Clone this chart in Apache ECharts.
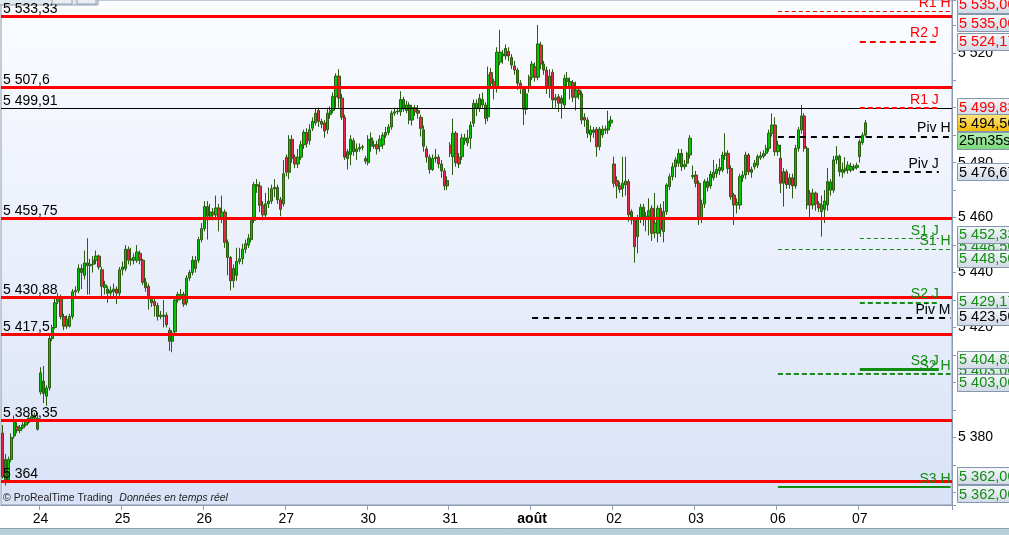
<!DOCTYPE html>
<html><head><meta charset="utf-8">
<script src="https://cdn.jsdelivr.net/npm/echarts@6/dist/echarts.min.js"></script>
<style>html,body{margin:0;padding:0;background:#fff;overflow:hidden}#c{width:1009px;height:535px}</style>
</head><body><div id="c"></div>
<script>
// ---------- DATA ----------
const dayNames = ['23','24','25','26','27','30','31','août','02','03','06','07','08'];
const daySlots = [13,28,28,28,28,28,28,28,28,28,28,28,4];
const labelledDays = ['24','25','26','27','30','31','août','02','03','06','07'];

// candles: [open, close, low, high]
const day23 = [
[5381.6,5365.6,5365.0,5384.5],[5372,5364.5,5362.5,5374],[5364.5,5372,5363.5,5373],[5372,5380,5371,5381.5],
[5380.5,5386.5,5379.5,5388],[5384,5382.5,5381.5,5385.5],[5382.5,5383.5,5381.5,5384.5],[5383.5,5384.5,5383,5385.5],
[5384.5,5386,5384,5386.5],[5385.5,5387,5385,5388],[5386.5,5387.5,5386,5390.5],[5387,5388,5386.5,5389],[5387,5383,5382.5,5389]];
const day24 = [
[5396.5,5403.5,5395.5,5405.5],[5400.5,5396,5392.5,5406],[5395,5398,5391.5,5399],[5398,5416,5397,5417],
[5416,5420,5415,5421],[5420,5429,5419.5,5430.5],[5429.5,5430.5,5428.5,5432.5],[5430.5,5424,5423,5432],
[5424,5420.5,5419,5425],[5420.5,5423,5419.5,5424.5],[5420.5,5424,5420,5425],[5424,5433,5423,5434],
[5433,5433.5,5431.5,5435],[5433.5,5441.5,5432.5,5443],[5441.5,5440,5434,5443],[5439,5443.5,5437.5,5448],
[5443.5,5442.5,5432,5452.5],[5442.5,5443,5432,5445],[5443,5444.5,5440,5446],[5444.5,5446,5443,5448],
[5446,5442,5441,5446.5],[5441,5435,5431.5,5442],[5434.5,5435.5,5432,5437],[5434,5432.5,5429,5435],
[5432.5,5433.5,5431,5435],[5433,5434,5431,5436],[5434,5432.5,5428.5,5435],[5432.5,5441,5431.5,5442]];
const day25 = [
[5441,5442,5439,5444],[5441.5,5448.5,5440.5,5450],[5448.5,5444.5,5443,5449.5],[5444.5,5445,5442.5,5449],
[5444.5,5445.5,5443,5447],[5444.5,5447.5,5443.5,5450],[5447,5444.5,5443,5448],[5444.5,5436.5,5435.5,5445],
[5436.5,5434.5,5433,5438],[5435,5430.5,5426.5,5436],[5430.5,5429,5427.5,5431.5],[5429.5,5428,5424,5430.5],
[5428,5424,5422.5,5429],[5424,5424.5,5423,5426],[5424,5424.5,5420,5430],[5424.5,5421,5420,5425.5],
[5419,5415,5411.5,5420],[5415,5418,5411,5419],[5418.5,5430,5417,5431],[5430,5432,5429,5433],
[5431,5432,5430,5434],[5432,5428.5,5427.5,5433],[5429,5438,5428,5439],[5438,5440,5437,5441],
[5440,5444.5,5439,5446],[5441.5,5444.5,5440,5446],[5444.5,5452,5443.5,5453],[5452,5456,5451,5458]];
const day26 = [
[5456,5464,5455,5466],[5464,5460.5,5452,5466],[5460.5,5462,5459,5465],[5462,5461,5459,5463.5],
[5461,5463.5,5459.5,5468],[5463.5,5460,5455,5465],[5460,5462,5458,5468],[5462,5451,5449,5463],
[5451,5445.5,5439,5452],[5445.5,5437,5433.5,5446],[5437,5441.5,5434.5,5443],[5439,5444,5437,5449],
[5444,5445,5443,5449],[5445,5448.5,5443,5450.5],[5448.5,5450.5,5447,5452],[5450,5452.5,5449,5454],
[5452,5459,5451,5460],[5459,5472,5458,5473],[5472,5471.5,5469,5474],[5471.5,5464.5,5462,5473],
[5464.5,5461,5459,5466],[5461,5465,5460,5469],[5465,5466,5463.5,5471],[5466,5470.5,5465,5472],
[5471,5470.5,5467.5,5474],[5471,5466.5,5465,5472],[5466.5,5463,5460.5,5467.5],[5465,5476,5464,5481]];
const day27 = [
[5482,5476.5,5475,5483],[5476.5,5488.5,5474,5490],[5488.5,5481.5,5480,5490],[5482,5479.5,5478,5483],
[5479.5,5482,5478,5485],[5482,5486.5,5481,5488],[5486.5,5491,5485,5492],[5491,5487,5485.5,5492.5],
[5488,5492,5486.5,5494],[5492.5,5495,5491.5,5496.5],[5494.5,5498,5493.5,5499.5],[5499,5495,5493,5500],
[5495,5494,5492.5,5496],[5494.5,5491.5,5489,5495.5],[5492,5498,5490.5,5500],[5497.5,5499,5496,5500.5],
[5499,5504,5498,5505.5],[5504,5511.5,5500,5512.5],[5511.5,5503.5,5500,5514],[5503.5,5496.5,5495.5,5505],
[5496.5,5482,5481,5497.5],[5484,5481.5,5477.5,5485],[5483,5488.5,5479,5490],[5488,5484,5482.5,5489],
[5484,5485,5481,5487],[5485,5485.5,5484,5487],[5485.5,5485.8,5484.5,5486.5],[5481.5,5480.5,5479.5,5482.5]];
const day30 = [
[5480,5488.5,5479,5490],[5489,5486,5484,5491],[5486,5486.5,5485,5488],[5486.5,5485,5483,5488],
[5486,5488.5,5484,5490],[5486.5,5490,5485,5491],[5490,5491,5489,5493],[5491,5493,5490,5494],
[5493,5498,5492,5499],[5498,5498.5,5497,5500],[5498.5,5498.8,5497.5,5500],[5498.5,5503,5497,5506],
[5503,5499.5,5498.5,5504],[5499,5501,5498,5502.5],[5501,5495.5,5494,5502],[5495.5,5500,5493.5,5501],
[5500,5498.5,5497,5501],[5499,5498,5496,5501],[5496.5,5492.5,5489.5,5497.5],[5492,5486,5484,5493.5],
[5485,5482,5480,5486],[5482,5477.5,5476,5483],[5477.5,5481.5,5477,5483],[5481.5,5482,5480,5485],
[5482,5479.5,5478,5483],[5479.5,5477,5474.5,5481],[5477,5471.5,5470,5478],[5471.5,5473.5,5470,5475]];
const day31 = [
[5486.4,5483.4,5482,5487.5],[5482.2,5490.7,5475.5,5496],[5490.7,5480,5478.5,5491.5],[5482,5479.5,5478,5483.5],
[5482.2,5489,5481,5490.5],[5488,5489,5486.5,5490.5],[5487.2,5489,5486,5492],[5488.9,5493.7,5485,5495],
[5494.3,5501.6,5493,5503],[5499.8,5501.6,5497,5503],[5499.8,5503.4,5498.5,5505],[5501,5503,5500,5505.5],
[5501,5496.1,5494,5502],[5496.7,5511.9,5495,5515],[5512.8,5508.9,5507.5,5514.5],[5509.5,5507.1,5503,5510.5],
[5507.1,5520.2,5505.5,5522],[5516.6,5520.2,5515.5,5528.3],[5518.8,5519.6,5516,5521],[5518.8,5521.6,5517.5,5523],
[5520.5,5518.8,5517,5522],[5518.3,5515.5,5514,5519.5],[5515.2,5513.7,5512,5517],[5513.7,5508.9,5506.5,5514.5],
[5508.9,5507.1,5505,5510],[5506.7,5499.4,5493.7,5507.5],[5499.4,5505,5497.5,5507],[5507.1,5511.1,5505.5,5512]];
const dayAout = [
[5511.1,5515.9,5510,5517],[5514.9,5511.1,5509.5,5516.5],[5511.1,5523.2,5510,5530.1],[5522.8,5515.9,5514,5524],
[5515.9,5513.7,5512,5517],[5513.7,5507.1,5505,5515],[5507.1,5511.5,5503.5,5514],[5512.9,5502.8,5499.5,5514],
[5502.8,5503.6,5500,5505],[5504,5501.6,5498.5,5505],[5503.5,5501.6,5496,5504.5],[5501,5510.7,5499.5,5512],
[5509.5,5510.7,5507.5,5513],[5507.5,5509.5,5503,5511],[5509.1,5503.8,5502,5510],[5503.8,5506.4,5499,5509.5],
[5506.4,5504.8,5503,5507.5],[5505,5495.5,5494,5506],[5496.5,5495.5,5493,5498],[5495.5,5490.7,5489,5496.5],
[5490.1,5491.9,5487.5,5493.5],[5491.9,5491,5489,5493],[5492.2,5485.8,5482.2,5493],[5485.8,5492.2,5484.5,5493],
[5490.1,5492.2,5489,5493.5],[5491.8,5492.3,5490.5,5493.5],[5491.9,5494.9,5490.5,5498.9],[5494.5,5495.5,5493,5497]];
const day02 = [
[5479.5,5472.5,5471,5482.2],[5473.5,5471.5,5467,5475],[5471.5,5470.3,5469,5473],[5470.7,5472.5,5467.5,5482.2],
[5471.9,5473.3,5468,5482.2],[5473.1,5461,5458.5,5474],[5462.2,5459.1,5457.5,5463],[5459.1,5449.4,5443.6,5460],
[5453.1,5459.8,5447,5461],[5459.8,5463.8,5458,5465],[5463.8,5459.8,5457,5465],[5459.8,5460.5,5455,5462],
[5460.5,5462.5,5453.5,5467],[5463.4,5454.3,5451.5,5464.5],[5454.5,5458,5452.5,5469],[5454.3,5463.4,5451,5464.5],
[5463.4,5455.6,5453,5465],[5454.9,5462.2,5451,5466],[5462.2,5471.9,5461,5472.5],[5471.3,5474.9,5470,5476],
[5474.9,5478.5,5473.5,5480],[5478.5,5481,5474.5,5482],[5479.8,5483.4,5478.5,5485],[5483.4,5478.5,5477,5485],
[5478.5,5479.3,5477.5,5481],[5479.8,5483.4,5478.5,5484],[5482.8,5488.9,5481.5,5490],[5475.3,5475,5474,5479]];
const day03 = [
[5475.5,5472.5,5471,5477],[5472.5,5459.8,5457.3,5473.5],[5459.8,5465,5458,5466.5],[5465,5473.1,5463.5,5474],
[5473.1,5471,5469.5,5474.5],[5471.5,5475.8,5470.5,5477],[5474.5,5476.5,5473.5,5481],[5476,5477.5,5474.5,5479.5],
[5477,5478.2,5475.5,5481.5],[5477.3,5482.8,5476.5,5484],[5482.6,5483.5,5481,5490.7],[5483.4,5477.9,5476,5484.5],
[5477.9,5467.6,5466.5,5479],[5468.2,5464.6,5457.3,5469],[5464.6,5465.5,5461.5,5467],[5464.6,5474.9,5463,5476],
[5474.5,5475.5,5473,5477],[5475.5,5482.8,5474,5484],[5482.8,5476.7,5475.5,5483.5],[5477.5,5476.5,5474.5,5478.5],
[5478.5,5479.8,5477.5,5481],[5479.1,5482.2,5478,5483],[5481.8,5482.5,5481,5484],[5482.3,5483.3,5481.5,5484.5],
[5483.4,5485.2,5482.5,5486.5],[5485.2,5490.7,5484,5492],[5490.7,5493.7,5489.5,5498],[5493.7,5484,5482.5,5496.5]];
const day06 = [
[5484,5486.4,5482.5,5488],[5481.6,5472.5,5468.9,5486.5],[5472.5,5476.7,5464,5478],[5476.7,5472,5470.5,5477.5],
[5472,5474.5,5470.5,5476],[5474.5,5471.5,5467,5476],[5471.5,5485.2,5470.5,5486.5],[5485.2,5491.9,5484,5493],
[5491.9,5497,5490.5,5501],[5497,5485.2,5484,5498],[5485.2,5464.6,5463,5486],[5468.9,5464.6,5460,5470],
[5464.6,5468.9,5463,5470.5],[5468.9,5465,5462.5,5469.5],[5465,5463.5,5462,5466],[5462.2,5464.6,5453.1,5468],
[5463,5466,5458,5470],[5464.6,5473.1,5462.5,5478],[5470,5473,5468,5474],[5470,5481,5469,5482.5],
[5481,5482.4,5479.5,5486],[5482.4,5476.7,5475,5483],[5476.5,5477.5,5474.5,5480],[5477,5478,5476,5482],
[5477.3,5479.1,5476,5480.5],[5477.3,5478.6,5476.5,5480],[5478,5478.5,5477,5479.5],[5478.3,5479,5477.5,5480]];
const day07 = [
[5482.2,5487.6,5480,5488.5],[5487.3,5490,5486.5,5491],[5490,5494.5,5489.5,5495.5]];

// horizontal levels (left labels)
const levelValues = [5533.33, 5507.6, 5499.91, 5459.75, 5430.88, 5417.5, 5386.35, 5364];
const levelKinds  = ['red','red','black','red','red','red','red','red'];
// pivot levels
const pivotNames  = ['R1 H','R2 J','R1 J','Piv H','Piv J','S1 J','S1 H','S2 J','Piv M','S3 J','S2 H','S3 H'];
const pivotValues = [5535.00, 5524.17, 5499.83, 5489.5, 5476.67, 5452.33, 5448.50, 5429.17, 5423.50, 5404.82, 5403.00, 5362.00];
// right-hand value boxes
const boxValues = [5535.00, 5535.00, 5524.17, 5499.83, 5494.50, 5476.67, 5448.50, 5452.33, 5448.50, 5429.17, 5423.50, 5403.00, 5404.82, 5403.00, 5362.00, 5362.00];
const boxKinds  = ['red','red','red','red','price','black','green','green','green','green','black','green','green','green','green','green'];
const timerText = '25m35s';
const yTickLabels = [5380, 5400, 5420, 5440, 5460, 5480, 5500, 5520];

// ---------- BUILD ----------
const FONT = 'Arial, "Liberation Sans", sans-serif';
const categories = [];
const dayStartIndex = {};
dayNames.forEach((d, k) => { dayStartIndex[d] = categories.length; for (let j = 0; j < daySlots[k]; j++) categories.push(d + '#' + j); });
const labelAt = {};
labelledDays.forEach(d => { labelAt[dayStartIndex[d]] = d; });
const candles = [].concat(day23, day24, day25, day26, day27, day30, day31, dayAout, day02, day03, day06, day07);
const lastIdx = categories.length - 1;

function fr(v, dec) {
  const s = dec == null ? String(v) : v.toFixed(dec);
  const parts = s.split('.');
  const i = parts[0].replace(/\B(?=(\d{3})+(?!\d))/g, ' ');
  return parts[1] ? i + ',' + parts[1] : i;
}
const RED = '#ff0000', GREEN = '#128c12', BLACK = '#000000';
const pivotStyle = {
  'R1 H': {color: RED, width: 1, type: [4, 3]},
  'R2 J': {color: RED, width: 2, type: [6, 4]},
  'R1 J': {color: RED, width: 2, type: [5, 3]},
  'Piv H': {color: BLACK, width: 2, type: [6, 5]},
  'Piv J': {color: BLACK, width: 2, type: [6, 5]},
  'S1 J': {color: GREEN, width: 1, type: [4, 3]},
  'S1 H': {color: GREEN, width: 1, type: [4, 3]},
  'S2 J': {color: GREEN, width: 2, type: [5, 3]},
  'Piv M': {color: BLACK, width: 2, type: [6, 5]},
  'S3 J': {color: GREEN, width: 3, type: 'solid'},
  'S2 H': {color: GREEN, width: 2, type: [5, 3]},
  'S3 H': {color: GREEN, width: 2, type: 'solid'}
};
function periodStart(name) {
  const p = name.slice(-1);
  if (p === 'J') return dayStartIndex['07'];
  if (p === 'H') return dayStartIndex['06'];
  return dayStartIndex['août'];
}
function periodEnd(name) { return name.slice(-1) === 'J' ? lastIdx - 4 : lastIdx; }

const markData = [];
levelValues.forEach((v, k) => {
  const black = levelKinds[k] === 'black';
  markData.push({
    yAxis: v,
    lineStyle: {color: black ? BLACK : RED, width: black ? 1 : 3, type: 'solid'},
    label: {show: true, position: 'insideStartTop', formatter: fr(v), color: '#000', fontSize: 14, fontFamily: FONT, distance: [2, 0]}
  });
});
pivotNames.forEach((n, k) => {
  const st = pivotStyle[n];
  markData.push([
    {coord: [periodStart(n), pivotValues[k]], lineStyle: {color: st.color, width: st.width, type: st.type},
     label: {show: true, position: 'insideEndTop', formatter: n, color: st.color, fontSize: 14, fontFamily: FONT, distance: [0, 1]}},
    {coord: [periodEnd(n), pivotValues[k]]}
  ]);
});

const chart = echarts.init(document.getElementById('c'), null, {renderer: 'canvas'});
chart.setOption({
  animation: false,
  backgroundColor: '#ffffff',
  grid: {
    left: 1, right: 57, top: 0, bottom: 30, show: true,
    backgroundColor: new echarts.graphic.LinearGradient(0, 0, 0, 1, [{offset: 0, color: '#fbfcff'}, {offset: 1, color: '#d9e2f7'}]),
    borderColor: '#8a9ab0', borderWidth: 1
  },
  xAxis: {
    type: 'category', data: categories, boundaryGap: true,
    axisLine: {show: true, lineStyle: {color: '#8a9ab0'}},
    axisTick: {show: true, length: 5, lineStyle: {color: '#8a9ab0'}, interval: (i) => labelAt[i] !== undefined},
    axisLabel: {
      show: true, margin: 7, color: '#000', fontSize: 14, fontFamily: FONT,
      interval: (i) => labelAt[i] !== undefined,
      formatter: (val, i) => labelAt[i] === 'août' ? '{b|août}' : (labelAt[i] || ''),
      rich: {b: {fontWeight: 'bold', fontSize: 14, fontFamily: FONT, color: '#000'}}
    },
    splitLine: {show: false}
  },
  yAxis: {
    type: 'value', position: 'right', min: 5355.4, max: 5539.2, splitNumber: 18, scale: true,
    axisLine: {show: true, lineStyle: {color: '#8a9ab0'}},
    axisTick: {show: true, length: 4, lineStyle: {color: '#8a9ab0'}},
    splitLine: {show: false},
    axisLabel: {
      show: true, margin: 6, color: '#000', fontSize: 14, fontFamily: FONT,
      formatter: (v) => yTickLabels.some(t => Math.abs(t - v) < 1e-6) ? fr(Math.round(v)) : ''
    }
  },
  series: [{
    type: 'candlestick',
    data: candles,
    barWidth: 2.8,
    itemStyle: {color: '#00c800', color0: '#e8264a', borderColor: '#2b5d10', borderColor0: '#2b5d10', borderWidth: 1},
    markLine: {silent: true, symbol: ['none', 'none'], animation: false, data: markData}
  }]
});

// boxes on the right, positioned from values through the y axis
const yPix = v => chart.convertToPixel({yAxisIndex: 0}, v);
const boxNudge = [-7.5, 11, 0, -1.5, 0, 0, -3.7, -4.5, 9, -1.5, -1.5, -4.3, -10, 8, -11, 7];
const boxFill = {
  red: new echarts.graphic.LinearGradient(0, 0, 0, 1, [{offset: 0, color: '#f7f9fc'}, {offset: 1, color: '#cfd8e5'}]),
  price: new echarts.graphic.LinearGradient(0, 0, 0, 1, [{offset: 0, color: '#ffe680'}, {offset: 1, color: '#f2b800'}]),
  timer: new echarts.graphic.LinearGradient(0, 0, 0, 1, [{offset: 0, color: '#b4f0b4'}, {offset: 1, color: '#78d878'}])
};
const boxTextColor = {red: RED, green: GREEN, black: BLACK, price: BLACK};
const graphics = [];
let z = 10;
function addBox(cy, text, fill, color) {
  graphics.push({type: 'rect', z: z++, shape: {x: 957.5, y: Math.round(cy - 8.5) + 0.5, width: 70, height: 17},
    style: {fill: fill, stroke: '#8596ad', lineWidth: 1}});
  graphics.push({type: 'text', z: z++, style: {x: 959, y: Math.round(cy) + 1, text: text, fill: color, fontSize: 14.5, fontFamily: FONT, verticalAlign: 'middle', align: 'left'}});
}
boxValues.forEach((v, k) => {
  const kind = boxKinds[k];
  const cy = yPix(v) + boxNudge[k];
  addBox(cy, fr(v, 2), kind === 'price' ? boxFill.price : boxFill.red, boxTextColor[kind]);
  if (kind === 'price') addBox(cy + 17.5, timerText, boxFill.timer, BLACK);
});
// watermark, bottom strip, top toolbar fragment
graphics.push({type: 'text', z: 5, style: {x: 3, y: 498, text: '{a|© ProRealTime Trading}  {b|Données en temps réel}', verticalAlign: 'middle',
  rich: {a: {fontSize: 10.5, fontFamily: FONT, fill: '#222'}, b: {fontSize: 10.5, fontFamily: FONT, fontStyle: 'italic', fill: '#222'}}}});
graphics.push({type: 'rect', z: 5, shape: {x: -1, y: 528.5, width: 1012, height: 10}, style: {fill: '#b6cfdb', stroke: '#8aa2b2', lineWidth: 1}});
graphics.push({type: 'rect', z: 5, shape: {x: -1, y: -6, width: 99, height: 11}, style: {fill: '#dfe7ef', stroke: '#8fa0b0', lineWidth: 1}});
graphics.push({type: 'rect', z: 6, shape: {x: 52, y: -6, width: 20, height: 10}, style: {fill: '#e9eef4', stroke: '#8fa0b0', lineWidth: 1}});
graphics.push({type: 'rect', z: 6, shape: {x: 77, y: -6, width: 19, height: 10}, style: {fill: '#e9eef4', stroke: '#8fa0b0', lineWidth: 1}});
chart.setOption({graphic: graphics});
</script>
</body></html>
